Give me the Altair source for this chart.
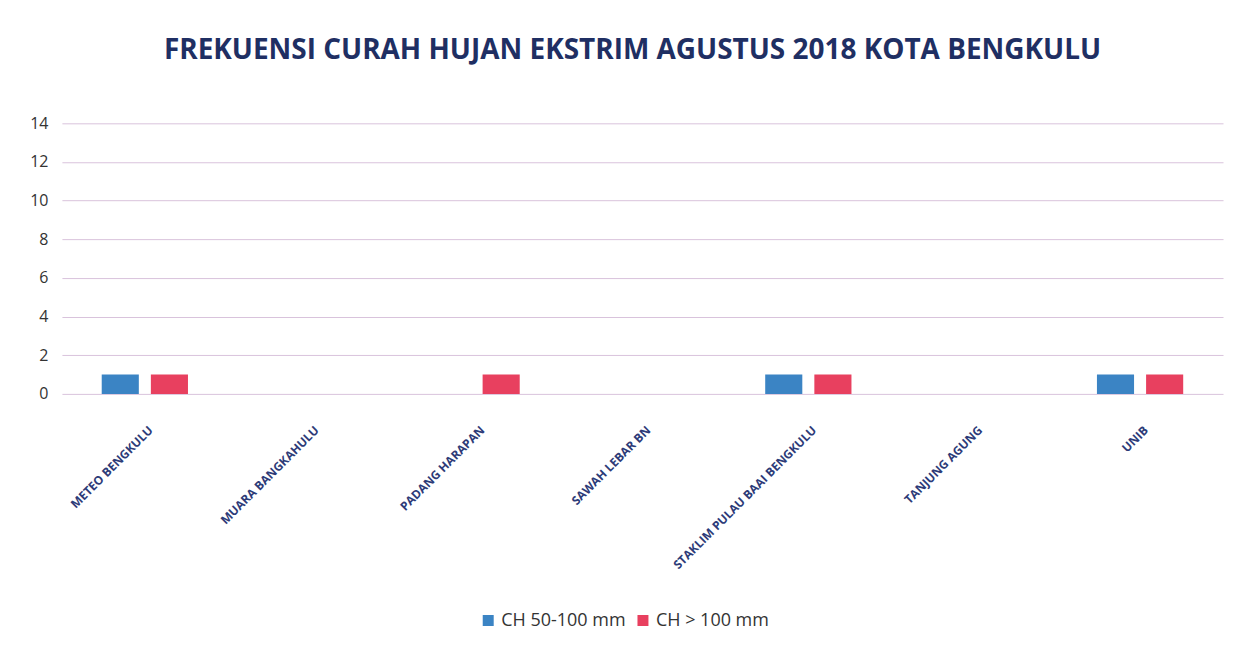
import altair as alt
import pandas as pd

stations = ["METEO BENGKULU", "MUARA BANGKAHULU", "PADANG HARAPAN", "SAWAH LEBAR BN",
            "STAKLIM PULAU BAAI BENGKULU", "TANJUNG AGUNG", "UNIB"]
ch_50_100 = [1, 0, 0, 0, 1, 0, 1]
ch_100 = [1, 0, 1, 0, 1, 0, 1]
series = ["CH 50-100 mm", "CH > 100 mm"]
colors = ["#3b84c4", "#e8405f"]

rows = []
for s, a, b in zip(stations, ch_50_100, ch_100):
    rows.append({"station": s, "series": series[0], "value": a})
    rows.append({"station": s, "series": series[1], "value": b})
df = pd.DataFrame(rows)

chart = alt.Chart(df).mark_bar().encode(
    x=alt.X("station:N", sort=stations, title=None,
            scale=alt.Scale(paddingInner=0.48, paddingOuter=0.24),
            axis=alt.Axis(labelAngle=-45, labelAlign="right", labelBaseline="middle",
                          labelPadding=34, labelOffset=6, labelFontSize=12, labelFont="Open Sans",
                          labelFontWeight="bold", labelColor="#2d3b78", ticks=False,
                          domain=False, grid=False, labelLimit=300)),
    xOffset=alt.XOffset("series:N", sort=series,
                        scale=alt.Scale(domain=series, paddingInner=0.245, paddingOuter=0)),
    y=alt.Y("value:Q", title=None,
            scale=alt.Scale(domain=[0, 14]),
            axis=alt.Axis(values=[0, 2, 4, 6, 8, 10, 12, 14], labelFontSize=16,
                          labelFont="Open Sans", labelColor="#333333", ticks=False,
                          domain=False, gridColor="#d9c3dc", gridWidth=1, labelPadding=14)),
    color=alt.Color("series:N", sort=series,
                    scale=alt.Scale(domain=series, range=colors),
                    legend=alt.Legend(title=None, orient="none", direction="horizontal",
                                      legendX=418, legendY=489, symbolType="square",
                                      symbolSize=121, symbolStrokeWidth=0,
                                      labelFontSize=18, labelFont="Open Sans",
                                      labelColor="#333333", columnPadding=8,
                                      symbolOpacity=1)),
).properties(
    width=1163, height=271,
    title=alt.TitleParams("FREKUENSI CURAH HUJAN EKSTRIM AGUSTUS 2018 KOTA BENGKULU",
                          fontSize=28, font="Open Sans", fontWeight="bold",
                          color="#1f2f63", anchor="middle", offset=50, dx=-10),
    autosize=alt.AutoSizeParams(type="none"),
    padding={"left": 54, "top": 115, "right": 5, "bottom": 240},
).configure_view(stroke=None)

chart.save("out.html", embed_options={"renderer": "svg", "actions": False})
